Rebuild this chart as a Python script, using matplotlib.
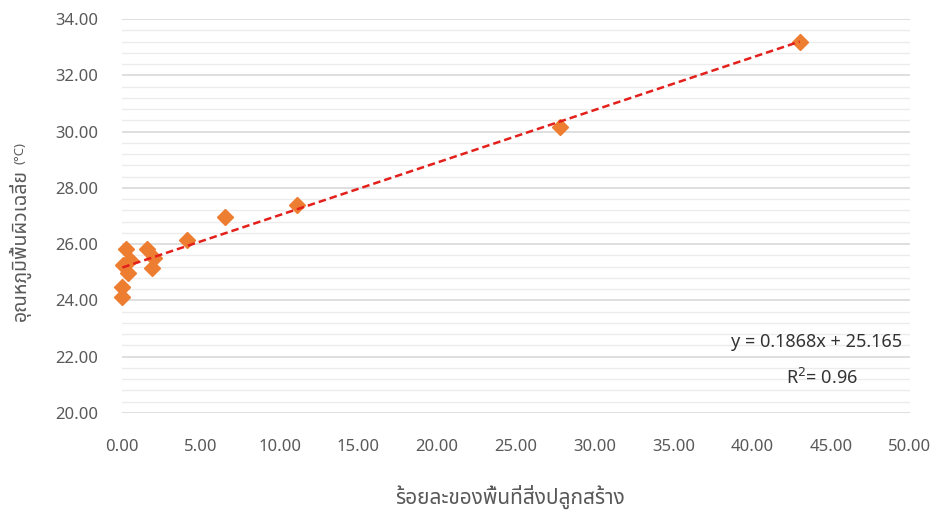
import matplotlib
matplotlib.use("Agg")
import matplotlib.pyplot as plt
from matplotlib.ticker import MultipleLocator
import numpy as np

# percent built-up area vs mean surface temperature
built_pct = [0.23, 1.57, 0.51, 0.06, 0.40, 1.88, 2.03, 0.02, 0.02,
             4.12, 6.54, 11.1, 27.8, 43.0]
temp_c = [25.83, 25.83, 25.44, 25.26, 24.97, 25.15, 25.50, 24.48, 24.12,
          26.15, 26.96, 27.39, 30.17, 33.20]
slope = 0.1868
intercept = 25.165
r2 = 0.96

xlabel = "ร้อยละของพื้นที่สิ่งปลูกสร้าง"
ylabel = "อุณหภูมิพื้นผิวเฉลี่ย"
yunit = "(°C)"

plt.rcParams["font.family"] = ["Noto Sans", "Noto Sans Thai", "DejaVu Sans"]
thai_font = ["Noto Sans Thai", "Noto Sans", "DejaVu Sans"]

fig = plt.figure(figsize=(9.33, 5.14), dpi=100)
ax = fig.add_axes([0.1308, 0.1965, 0.8445, 0.7665])

ax.plot(built_pct, temp_c, "D", color="#ED7D31", markersize=8,
        zorder=3, clip_on=False)
xs = np.array([min(built_pct), max(built_pct)])
ax.plot(xs, slope * xs + intercept, color="#E3201B", lw=1.8,
        dashes=(3, 1.6), zorder=4)

ax.set_xlim(0, 50)
ax.set_ylim(20, 34)
ax.xaxis.set_major_locator(MultipleLocator(5))
ax.yaxis.set_major_locator(MultipleLocator(2))
ax.yaxis.set_minor_locator(MultipleLocator(0.4))
ax.grid(which="major", axis="y", color="#d9d9d9", lw=1.2)
ax.grid(which="minor", axis="y", color="#ececec", lw=1.0)
ax.set_axisbelow(True)
for s in ax.spines.values():
    s.set_visible(False)
ax.tick_params(which="both", length=0, labelsize=12, colors="#595959")
ax.tick_params(axis="y", pad=17)
ax.tick_params(axis="x", pad=19)
ax.xaxis.set_major_formatter(lambda v, p: f"{v:.2f}")
ax.yaxis.set_major_formatter(lambda v, p: f"{v:.2f}")

# trendline equation
ax.text(0.881, 0.180, f"y = {slope}x + {intercept}", transform=ax.transAxes,
        ha="center", va="center", fontsize=13, color="#333333")
ax.text(0.888, 0.089, f"R$^2$= {r2}", transform=ax.transAxes,
        ha="center", va="center", fontsize=13, color="#333333")

fig.text(0.547, 0.033, xlabel, ha="center", va="center", fontsize=15,
         color="#595959", family=thai_font)
yl = fig.text(0.021, 0.523, ylabel, ha="center", va="center", rotation=90,
              fontsize=14, color="#595959", family=thai_font)
ax.annotate(yunit, xy=(0.5, 1.0), xycoords=yl, xytext=(0, 4),
            textcoords="offset points", ha="center", va="bottom",
            rotation=90, fontsize=9.5, color="#595959")

fig.savefig("out.png")
